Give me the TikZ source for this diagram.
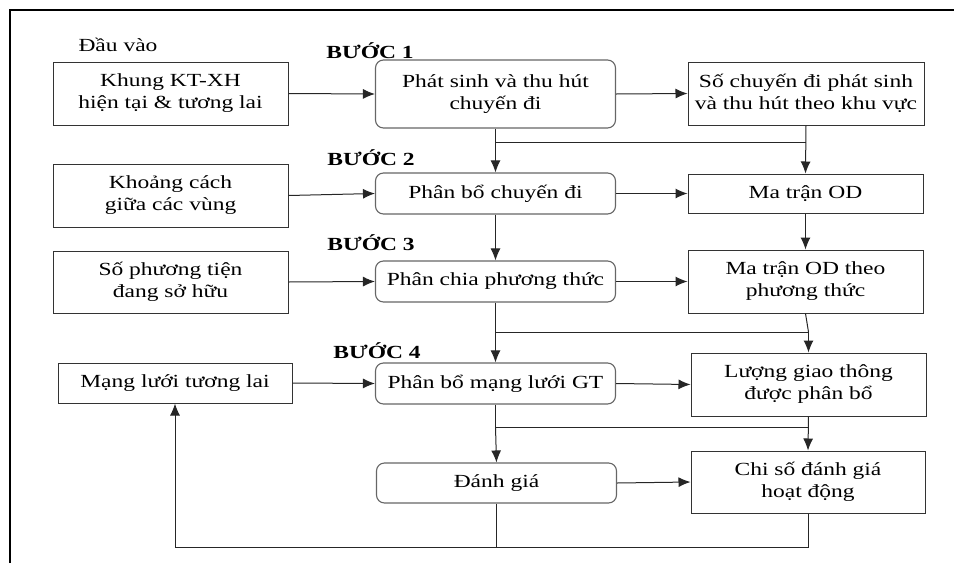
\documentclass[tikz,border=0pt]{standalone}
\usepackage{fontspec}
\setmainfont{Liberation Serif}[FakeStretch=1.27]
\usetikzlibrary{arrows.meta}
\begin{document}
\begin{tikzpicture}[x=1pt,y=-1pt,
  every node/.style={font=\fontsize{18.5}{22}\selectfont, align=center, inner sep=0pt},
  inbox/.style={draw=black!80, line width=1pt, minimum width=#1, minimum height=63},
  stepbox/.style={draw=black!60, line width=1.1pt, rounded corners=8pt, minimum width=240},
  steplabel/.style={font=\fontsize{18.5}{22}\selectfont\bfseries},
  conn/.style={line width=1pt, black!85},
  arr/.style={conn, -{Latex[length=12pt,width=10pt]}}
]
\useasboundingbox (0,0) rectangle (954,563);
\draw[line width=1.8pt] (10,563) -- (10,10) -- (954,10);

\node (dauvao) at (118,45) {Đầu vào};
\node[steplabel] (s1) at (370,51) {BƯỚC 1};
\node[steplabel] (s2) at (371,158) {BƯỚC 2};
\node[steplabel] (s3) at (371,243) {BƯỚC 3};
\node[steplabel] (s4) at (377,351) {BƯỚC 4};

\node[inbox=235] (A1) at (170.5,93.5) {Khung KT-XH\\hiện tại \& tương lai};
\node[stepbox, minimum height=68] (B1) at (495.5,94) {Phát sinh và thu hút\\chuyến đi};
\node[inbox=236] (C1) at (806,93.5) {Số chuyến đi phát sinh\\và thu hút theo khu vực};

\node[inbox=235] (A2) at (170.5,195.5) {Khoảng cách\\giữa các vùng};
\node[stepbox, minimum height=41] (B2) at (495.5,193.5) {Phân bổ chuyến đi};
\node[inbox=235, minimum height=39] (C2) at (805.5,193.5) {Ma trận OD};

\node[inbox=235, minimum height=62] (A3) at (170.5,282) {Số phương tiện\\đang sở hữu};
\node[stepbox, minimum height=41] (B3) at (495.5,281.5) {Phân chia phương thức};
\node[inbox=235] (C3) at (805.5,281.5) {Ma trận OD theo\\phương thức};

\node[inbox=234, minimum height=40] (A4) at (175,383) {Mạng lưới tương lai};
\node[stepbox, minimum height=41] (B4) at (495.5,383.5) {Phân bổ mạng lưới GT};
\node[inbox=235] (C4) at (808.5,384.5) {Lượng giao thông\\được phân bổ};

\node[stepbox, minimum height=40] (B5) at (496.5,483) {Đánh giá};
\node[inbox=234, minimum height=62] (C5) at (808,482) {Chi số đánh giá\\hoạt động};

\coordinate (j1) at (0,142);
\coordinate (j2) at (0,332);
\coordinate (j3) at (0,427);
\coordinate (j4) at (0,547);

% horizontal arrows
\draw[arr] (A1.east) -- (B1.west);
\draw[arr] (B1.east) -- (C1.west);
\draw[arr] (A2.east) -- (B2.west);
\draw[arr] (B2.east) -- (C2.west);
\draw[arr] (A3.east) -- (B3.west);
\draw[arr] (B3.east) -- (C3.west);
\draw[arr] (A4.east) -- (B4.west);
\draw[arr] (B4.east) -- (C4.west);
\draw[arr] (B5.east) -- (C5.west);

% step 1 -> step 2
\draw[arr] (B1.south) -- (B2.north);
\draw[arr] (C1.south) -- (C2.north);
\draw[conn] (B1.south |- j1) -- (C1.south |- j1);

% step 2 -> step 3
\draw[arr] (B2.south) -- (B3.north);
\draw[arr] (C2.south) -- (C3.north);

% step 3 -> step 4
\draw[conn] (B3.south) -- (B3.south |- j2) -- (C4.north |- j2);
\draw[conn] (C3.south) -- (C4.north |- j2);
\draw[arr] (B3.south |- j2) -- (B4.north);
\draw[arr] (C4.north |- j2) -- (C4.north);

% step 4 -> evaluation
\draw[conn] (B4.south) -- (B4.south |- j3) -- (C4.south |- j3);
\draw[arr] (B4.south |- j3) -- (B5.north);
\draw[arr] (C4.south) -- (C5.north);

% feedback loop
\draw[conn] (B5.south) -- (B5.south |- j4);
\draw[arr] (C5.south) -- (C5.south |- j4) -- (A4.south |- j4) -- (A4.south);
\end{tikzpicture}
\end{document}
